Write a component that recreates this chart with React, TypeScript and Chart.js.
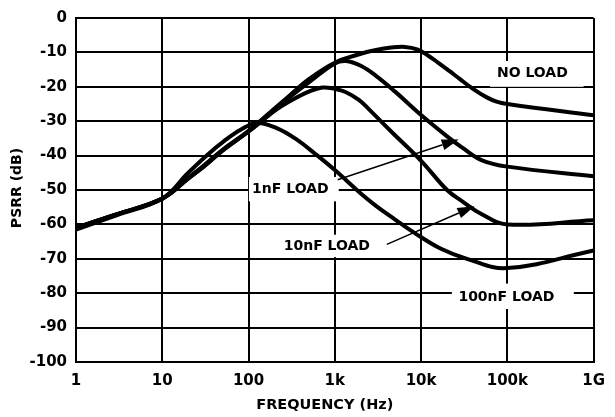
import React, { useEffect, useRef } from "react";
import { Chart, registerables } from "chart.js";

Chart.register(...registerables);

// ---- axis data ----
const FREQ_TICKS = [1, 10, 100, 1000, 10000, 100000, 1000000];
const FREQ_TICK_LABELS = ["1", "10", "100", "1k", "10k", "100k", "1G"];
const X_TITLE = "FREQUENCY (Hz)";
const Y_TITLE = "PSRR (dB)";

// ---- series (frequency in Hz, PSRR in dB) ----
const NO_LOAD_FREQ = [1, 3, 10, 20, 30, 50, 100, 200, 300, 500, 1000, 2000, 3000, 4500, 6500, 9000, 12000, 16000, 21000, 28000, 40000, 57000, 75000, 100000, 1000000];
const NO_LOAD_DB = [-61, -57, -52.5, -46.5, -43, -38.3, -32.8, -26.3, -22.5, -17.8, -13, -10.4, -9.3, -8.6, -8.4, -9.1, -10.9, -13.1, -15.3, -17.7, -20.6, -23, -24.3, -25, -28.3];

const NF1_FREQ = [1, 3, 10, 20, 30, 50, 100, 200, 300, 500, 1000, 1350, 2000, 3000, 5000, 10000, 20000, 30000, 50000, 100000, 1000000];
const NF1_DB = [-61, -57, -52.5, -46.6, -43.2, -38.5, -33, -26.8, -23, -18.7, -13.2, -12.5, -13.9, -16.8, -21.4, -28.2, -34.4, -37.7, -41.3, -43.2, -46];

const NF10_FREQ = [1, 3, 10, 20, 30, 50, 100, 200, 300, 500, 720, 1000, 1330, 1900, 2460, 4500, 10000, 20000, 30000, 50000, 100000, 1000000];
const NF10_DB = [-61, -57, -52.5, -46.7, -43.3, -38.6, -33, -27, -24.2, -21.4, -20.2, -20.6, -21.5, -23.8, -26.4, -33, -41.5, -50, -53.3, -57, -60, -58.8];

const NF100_FREQ = [1, 3, 10, 20, 34, 52, 81, 125, 212, 360, 600, 1000, 2000, 3000, 5000, 8300, 17000, 34000, 100000, 1000000];
const NF100_DB = [-61.5, -57.3, -52.5, -45, -39.6, -35.8, -32.5, -30.5, -32, -35.3, -39.6, -44.2, -51, -54.6, -58.6, -62.4, -67.1, -70, -72.7, -67.6];

// ---- annotations (data coordinates) ----
type Label = {
  text: string;
  x: number;
  y: number;
  align: CanvasTextAlign;
  box: [number, number, number, number];
  arrow?: [number, number, number, number];
};

const LABELS: Label[] = [
  { text: "NO LOAD", x: 195000, y: -16.2, align: "center", box: [63000, 765000, -12.5, -20] },
  { text: "1nF LOAD", x: 110, y: -49.9, align: "left", box: [101, 1110, -46.2, -53.3], arrow: [1079, -47.0, 27300, -35.3] },
  { text: "10nF LOAD", x: 808, y: -66.4, align: "center", box: [229, 2926, -63, -69.5], arrow: [4009, -65.8, 41500, -54.7] },
  { text: "100nF LOAD", x: 97500, y: -81.2, align: "center", box: [22700, 589000, -77.2, -84.6] },
];

const FONT = "'DejaVu Sans', sans-serif";

function toPoints(freq: number[], db: number[]) {
  return freq.map((f, i) => ({ x: f, y: db[i] }));
}

const annotPlugin = {
  id: "annot",
  beforeDatasetsDraw(chart: any) {
    const { ctx, scales } = chart;
    const xs = scales.x;
    const ys = scales.y;
    ctx.save();
    ctx.fillStyle = "#ffffff";
    for (const l of LABELS) {
      const x0 = xs.getPixelForValue(l.box[0]);
      const x1 = xs.getPixelForValue(l.box[1]);
      const y0 = ys.getPixelForValue(l.box[2]);
      const y1 = ys.getPixelForValue(l.box[3]);
      ctx.fillRect(x0, y0, x1 - x0, y1 - y0);
    }
    ctx.restore();
  },
  afterDatasetsDraw(chart: any) {
    const { ctx, scales } = chart;
    const xs = scales.x;
    const ys = scales.y;
    ctx.save();
    ctx.fillStyle = "#000";
    ctx.strokeStyle = "#000";
    ctx.font = `bold 14px ${FONT}`;
    ctx.textBaseline = "middle";
    for (const l of LABELS) {
      ctx.textAlign = l.align;
      ctx.fillText(l.text, xs.getPixelForValue(l.x), ys.getPixelForValue(l.y));
      if (l.arrow) {
        const ax = xs.getPixelForValue(l.arrow[0]);
        const ay = ys.getPixelForValue(l.arrow[1]);
        const bx = xs.getPixelForValue(l.arrow[2]);
        const by = ys.getPixelForValue(l.arrow[3]);
        const ang = Math.atan2(by - ay, bx - ax);
        const hl = 17;
        const hw = 5.5;
        const baseX = bx - hl * Math.cos(ang);
        const baseY = by - hl * Math.sin(ang);
        ctx.lineWidth = 1.5;
        ctx.beginPath();
        ctx.moveTo(ax, ay);
        ctx.lineTo(baseX, baseY);
        ctx.stroke();
        ctx.beginPath();
        ctx.moveTo(bx, by);
        ctx.lineTo(baseX - hw * Math.sin(ang), baseY + hw * Math.cos(ang));
        ctx.lineTo(baseX + hw * Math.sin(ang), baseY - hw * Math.cos(ang));
        ctx.closePath();
        ctx.fill();
      }
    }
    ctx.restore();
  },
  afterDraw(chart: any) {
    const { ctx, chartArea } = chart;
    ctx.save();
    ctx.fillStyle = "#000";
    ctx.font = `bold 14.5px ${FONT}`;
    ctx.textAlign = "center";
    ctx.textBaseline = "middle";
    ctx.fillText(X_TITLE, (chartArea.left + chartArea.right) / 2 - 10, chartArea.bottom + 43);
    ctx.font = `bold 14px ${FONT}`;
    ctx.translate(17, (chartArea.top + chartArea.bottom) / 2 - 2);
    ctx.rotate(-Math.PI / 2);
    ctx.fillText(Y_TITLE, 0, 0);
    ctx.restore();
  },
};

export default function App() {
  const canvasRef = useRef<HTMLCanvasElement | null>(null);

  useEffect(() => {
    const canvas = canvasRef.current;
    if (!canvas) return;
    const mk = (label: string, f: number[], d: number[]) => ({
      label,
      data: toPoints(f, d),
      borderColor: "#000",
      backgroundColor: "#000",
      borderWidth: 4,
      pointRadius: 0,
      tension: 0.4,
      fill: false,
    });
    const chart = new Chart(canvas, {
      type: "line",
      data: {
        datasets: [
          mk("NO LOAD", NO_LOAD_FREQ, NO_LOAD_DB),
          mk("1nF LOAD", NF1_FREQ, NF1_DB),
          mk("10nF LOAD", NF10_FREQ, NF10_DB),
          mk("100nF LOAD", NF100_FREQ, NF100_DB),
        ],
      },
      options: {
        animation: false,
        responsive: false,
        devicePixelRatio: 1,
        layout: { padding: { left: 0, top: 11, right: 13, bottom: 0 } },
        plugins: {
          legend: { display: false },
          tooltip: { enabled: false },
          title: { display: false },
        },
        scales: {
          x: {
            type: "logarithmic",
            min: 1,
            max: 1000000,
            afterBuildTicks: (scale: any) => {
              scale.ticks = FREQ_TICKS.map((v) => ({ value: v }));
            },
            afterFit: (scale: any) => {
              scale.height = 55;
            },
            ticks: {
              autoSkip: false,
              maxRotation: 0,
              padding: 10,
              color: "#000",
              font: { family: FONT, size: 15, weight: "bold" },
              callback: (v: any) => {
                const i = FREQ_TICKS.indexOf(Number(v));
                return i >= 0 ? FREQ_TICK_LABELS[i] : "";
              },
            },
            grid: { color: "#000", lineWidth: 2, drawTicks: false },
            border: { color: "#000", width: 2 },
          },
          y: {
            type: "linear",
            min: -100,
            max: 0,
            afterFit: (scale: any) => {
              scale.width = 76;
            },
            ticks: {
              stepSize: 10,
              padding: 9,
              color: "#000",
              font: { family: FONT, size: 15, weight: "bold" },
            },
            grid: { color: "#000", lineWidth: 2, drawTicks: false },
            border: { color: "#000", width: 2 },
          },
        },
      },
      plugins: [annotPlugin],
    });
    return () => chart.destroy();
  }, []);

  return (
    <div style={{ position: "absolute", left: 0, top: 0, width: 615, height: 417, background: "#fff" }}>
      <canvas ref={canvasRef} width={615} height={417} style={{ display: "block" }} />
    </div>
  );
}
